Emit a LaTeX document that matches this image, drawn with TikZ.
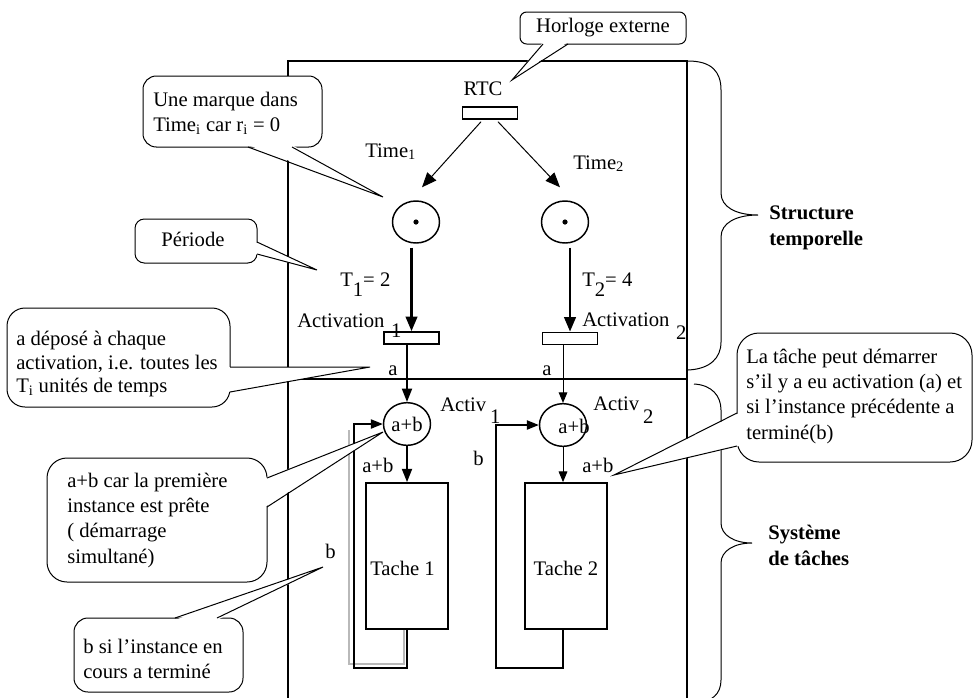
\documentclass[tikz,border=0pt]{standalone}
\usepackage{fontspec}
\setmainfont{Liberation Serif}
\usetikzlibrary{arrows.meta,shapes.geometric,calc}
% tail of a speech bubble: white wedge over the box edge, then its two sides
\newcommand\bubbletail[5]{%
  \fill[white] ($#1+(#4,#5)$) -- #2 -- ($#3+(#4,#5)$) -- cycle;
  \draw[bubble line] #1 -- #2 -- #3;}
\begin{document}
\begin{tikzpicture}[x=0.75pt,y=-0.75pt,
  font=\fontsize{15.5}{19}\selectfont,
  every node/.style={inner sep=0pt},
  lbl/.style={anchor=base west},
  para/.style={anchor=north west, align=left},
  frame/.style={line width=1.4pt},
  brace/.style={line width=0.75pt},
  place/.style={ellipse, draw, line width=1.1pt, minimum width=35.25pt, minimum height=31.5pt},
  trans/.style={rectangle, draw, line width=1.1pt, minimum width=41.5pt, minimum height=9pt},
  task/.style={rectangle, draw, line width=1.3pt, minimum width=61.5pt, minimum height=109.5pt},
  bubble/.style={rectangle, draw, line width=0.75pt, fill=white},
  bubble line/.style={line width=0.75pt, line join=miter},
  clockarr/.style={line width=0.75pt, -{Triangle[length=11pt,width=9pt]}},
  thickarr/.style={line width=2.2pt, -{Triangle[length=11pt,width=8.5pt]}},
  medarr/.style={line width=1.5pt, -{Triangle[length=10pt,width=7.5pt]}},
  smallarr/.style={line width=0.75pt, -{Triangle[length=8pt,width=6.5pt]}},
  looparr/.style={line width=1pt, -{Triangle[length=9pt,width=7pt]}},
]
\useasboundingbox (0,0) rectangle (973,697);
\fill[white] (0,0) rectangle (973,697);

% ---- outer frame and separator
\draw[frame] (288,706) -- (288,61) -- (687,61) -- (687,706);
\draw[frame] (288,379) -- (687,379);

% ---- braces and their captions
\draw[brace] (688,61) .. controls (712,61) and (721,72) .. (721,90) -- (721,193)
  .. controls (721,207) and (736,215) .. (758,215)
  .. controls (736,215) and (721,223) .. (721,237) -- (721,342)
  .. controls (721,358) and (710,369) .. (688,370);
\draw[brace] (694,384) .. controls (712,385) and (721,396) .. (721,410) -- (721,523)
  .. controls (721,535) and (734,543) .. (752,543)
  .. controls (734,543) and (721,551) .. (721,563) -- (721,680)
  .. controls (721,694) and (712,702) .. (694,704);
\node[para, font=\fontsize{15.5}{20}\selectfont\bfseries] (structure) at (769,200.3) {\strut Structure\\temporelle};
\node[para, font=\fontsize{15.5}{20}\selectfont\bfseries] (systeme) at (768,520.3) {\strut Système\\de tâches};

% ---- clock part
\node[anchor=base] (rtc-lbl) at (483,95) {RTC};
\node[trans] (rtc) at (490,113) {};
\node[lbl] (time1) at (365,157) {Time\textsubscript{1}};
\node[lbl] (time2) at (573,169) {Time\textsubscript{2}};
\node[place] (p1) at (416,222) {};
\node[place] (p2) at (565,222) {};
\fill (p1.center) circle[radius=2.6];
\fill (p2.center) circle[radius=2.6];
\draw[clockarr] ($(rtc.south)+(-9,2)$) -- ($(p1.north)+(6,-13)$);
\draw[clockarr] ($(rtc.south)+(8,2)$) -- ($(p2.north)+(-5,-13)$);

\node[lbl] (per1) at (340,286) {T\raisebox{-8pt}{1}= 2};
\node[lbl] (per2) at (582,286) {T\raisebox{-8pt}{2}= 4};
\node[trans] (t1) at (411.5,338) {};
\node[trans] (t2) at (570,338.5) {};
\node[lbl] (act1) at (297,327) {Activation\hspace{5pt}\raisebox{-8pt}{1}};
\node[lbl] (act2) at (582,326) {Activation\hspace{5pt}\raisebox{-10pt}{2}};
\draw[thickarr] ($(t1.north |- p1.south)+(0,4)$) -- (t1.north);
\draw[thickarr] ($(t2.north |- p2.south)+(0,4)$) -- (t2.north);
\node[lbl] (a-lbl1) at (388,375) {a};
\node[lbl] (a-lbl2) at (542,375) {a};

% ---- task part
\node[place, minimum height=32pt] (a1) at (407,424) {a+b};
\node[place, minimum height=32pt] (a2) at (563,425) {};
\node[anchor=base] (a2-txt) at (574,433) {a+b};
\node[lbl] (activ1) at (440,411) {Activ\hspace{3pt}\raisebox{-9pt}{1}};
\node[lbl] (activ2) at (593,410) {Activ\hspace{3pt}\raisebox{-10pt}{2}};
\draw[medarr] (a1.north |- t1.south) -- (a1.north);
\draw[smallarr] (a2.north |- t2.south) -- (a2.north);

\node[task] (tache1) at (407,556) {};
\node[task] (tache2) at (566,556) {};
\node[lbl] (tache1-txt) at (370,575) {Tache 1};
\node[anchor=base] (tache2-txt) at (566,575) {Tache 2};
\node[lbl] (ab1) at (362,472) {a+b};
\node[lbl] (ab2) at (582,472) {a+b};
\draw[medarr] (a1.south) -- (a1.south |- tache1.north);
\draw[smallarr] (a2.south) -- (a2.south |- tache2.north);

\coordinate (loopA) at (354,668);
\coordinate (loopB) at (496,668);
\coordinate (greyA) at (349,664);
\coordinate (greyB) at (349,430);
\draw[gray!55, line width=0.8pt] ($(tache1.south)+(-3,0)$) |- (greyA) -- (greyB);
\draw[looparr] (tache1.south) |- (loopA) |- (a1.west);
\draw[looparr] (tache2.south -| a2.south) |- (loopB) |- (a2.west);
\node[lbl] (b-lbl2) at (473,465) {b};
\node[lbl] (b-lbl1) at (325,558) {b};

% ---- speech bubbles
\node[bubble, rounded corners=5pt, minimum width=124.5pt, minimum height=24pt] (horloge) at (603,28) {};
\bubbletail{(543,44)}{(512,80)}{(568,44)}{0}{-2}
\node (horloge-txt) at (603,28) {Horloge externe};

\node[bubble, rounded corners=10pt, minimum width=134.25pt, minimum height=53.25pt] (marque) at (232.5,111.5) {};
\bubbletail{(248,147)}{(383,197)}{(292,147)}{0}{-2}
\node[para] (marque-txt) at (153,88.3) {\strut Une marque dans\\Time\textsubscript{i} car r\textsubscript{i} = 0};

\node[bubble, rounded corners=7pt, minimum width=91.5pt, minimum height=33pt] (periode) at (196,241) {};
\bubbletail{(257,242)}{(317,270)}{(257,254)}{-2}{0}
\node[anchor=base] (periode-txt) at (193,246) {Période};

\node[bubble, rounded corners=13.5pt, minimum width=167.25pt, minimum height=74.25pt] (depose) at (118.5,357.5) {};
\bubbletail{(230,367)}{(370,367)}{(230,392)}{-2}{0}
\node[para, font=\fontsize{15.5}{17.8}\selectfont] (depose-txt) at (16,328.4) {\strut a déposé à chaque\\activation, i.e. toutes les\\T\textsubscript{i} unités de temps};

\node[bubble, rounded corners=15pt, minimum width=165pt, minimum height=93pt] (premiere) at (157,520) {};
\bubbletail{(267,478)}{(383,432)}{(267,507)}{-2}{0}
\node[para] (premiere-txt) at (67,469.3) {\strut a+b car la première\\instance est prête\\( démarrage\\simultané)};

\node[bubble, rounded corners=10.5pt, minimum width=126.75pt, minimum height=55.5pt] (binst) at (158.5,655) {};
\bubbletail{(175,618)}{(323,567)}{(217,618)}{0}{2}
\node[para] (binst-txt) at (83,635.3) {\strut b si l’instance en\\cours a terminé};

\node[bubble, rounded corners=16.5pt, minimum width=176.25pt, minimum height=96.75pt] (latache) at (854.5,397.5) {};
\bubbletail{(737,413)}{(614,475)}{(737,446)}{2}{0}
\node[para] (latache-txt) at (746,345.3) {\strut La tâche peut démarrer\\s’il y a eu activation (a) et\\si l’instance précédente a\\terminé(b)};
\end{tikzpicture}
\end{document}
